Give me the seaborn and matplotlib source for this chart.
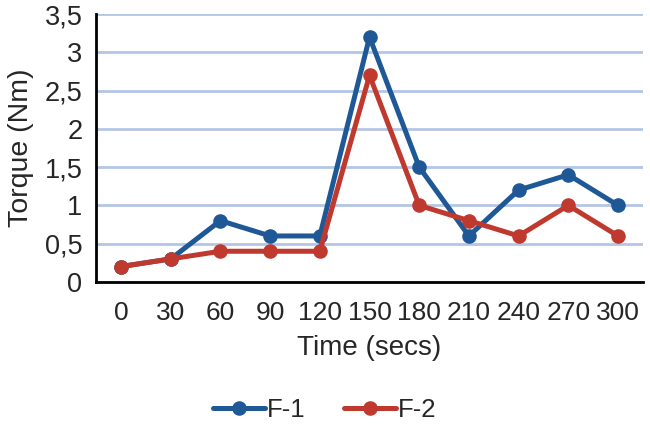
import matplotlib
matplotlib.use("Agg")
import matplotlib.pyplot as plt
import seaborn as sns
import pandas as pd
import numpy as np
from matplotlib.ticker import FuncFormatter, FixedLocator

times = ["0", "30", "60", "90", "120", "150", "180", "210", "240", "270", "300"]
f1 = [0.2, 0.3, 0.8, 0.6, 0.6, 3.2, 1.5, 0.6, 1.2, 1.4, 1.0]
f2 = [0.2, 0.3, 0.4, 0.4, 0.4, 2.7, 1.0, 0.8, 0.6, 1.0, 0.6]
series = ["F-1", "F-2"]
colors = ["#1F5896", "#C0392F"]

sns.set_theme(style="white")
plt.rcParams['font.family'] = ['Liberation Sans', 'DejaVu Sans']

idx = list(range(len(times)))
df = pd.DataFrame({
    "pos": idx + idx,
    "val": f1 + f2,
    "series": [series[0]] * len(times) + [series[1]] * len(times),
})

fig = plt.figure(figsize=(6.5, 4.29), dpi=100)
ax = fig.add_axes([0.148, 0.343, 0.841, 0.624])

sns.lineplot(data=df, x="pos", y="val", hue="series", palette=colors,
             marker="o", markersize=10.5, markeredgewidth=0, linewidth=3.6,
             ax=ax, legend=True)

ax.set_xlim(-0.5, len(times) - 0.5)
ax.set_ylim(0, 3.5)
ax.set_yticks(np.arange(0, 3.51, 0.5))
ax.yaxis.set_major_formatter(FuncFormatter(lambda v, p: ("%g" % v).replace(".", ",")))
ax.set_xticks(idx)
ax.set_xticklabels(times)
ax.xaxis.set_minor_locator(FixedLocator(np.arange(-0.5, len(times), 1.0)))
ax.tick_params(axis="x", which="major", length=0, labelsize=19, pad=14)
ax.tick_params(axis="x", which="minor", length=6, width=2, color="black", direction="out")
ax.tick_params(axis="y", length=6, width=2, color="black", direction="out", labelsize=19.5, pad=4)
ax.yaxis.grid(True, color="#B4C6E6", linewidth=2)
ax.set_axisbelow(True)
for s in ["top", "right"]:
    ax.spines[s].set_visible(False)
for s in ["left", "bottom"]:
    ax.spines[s].set_color("black")
    ax.spines[s].set_linewidth(2)
ax.set_xlabel("Time (secs)", fontsize=20)
ax.set_ylabel("Torque (Nm)", fontsize=20.5)
ax.xaxis.set_label_coords(0.5, -0.2)
ax.yaxis.set_label_coords(-0.113, 0.5)

h, l = ax.get_legend_handles_labels()
leg = ax.legend(h, l, loc="center", ncol=2, frameon=False, fontsize=18.5,
                handlelength=2.0, columnspacing=1.5, handletextpad=0.1)
leg.set_bbox_to_anchor((0.5, 0.044), transform=fig.transFigure)

fig.savefig("out.png", dpi=100)
